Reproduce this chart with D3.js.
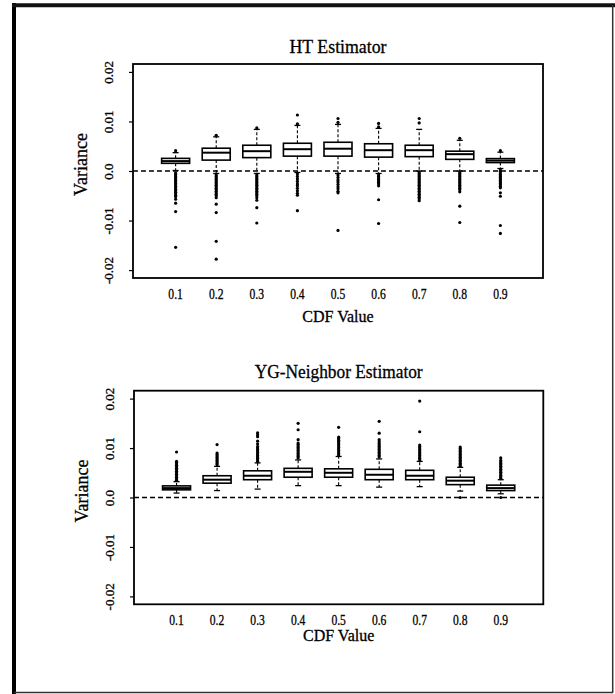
<!DOCTYPE html>
<meta charset="UTF-8">
<script src="https://d3js.org/d3.v7.min.js"></script>
<style>
body { margin: 0; background: #fff; }
svg text { font-family: "Liberation Serif", Tinos, "Times New Roman", Times, "DejaVu Serif", serif !important; fill: #000; stroke: #000; stroke-width: 0.3px; }
</style>
<div id="chart"></div>
<script>

// x categories and y ticks (variance in units of 0.001)
var cdfValues = ["0.1", "0.2", "0.3", "0.4", "0.5", "0.6", "0.7", "0.8", "0.9"];
var yTickValues = [-20, -10, 0, 10, 20];
var yTickLabels = ["-0.02", "-0.01", "0.0", "0.01", "0.02"];

// HT Estimator (x 0.001)
var htLower = [0.1, -0.5, -0.5, -0.3, -0.5, -0.5, 0.0, 0.0, 0.5];
var htQ1 = [1.55, 2.2, 2.7, 3.0, 3.0, 2.8, 2.9, 2.35, 1.7];
var htMedian = [2.0, 3.7, 4.0, 4.4, 4.5, 4.2, 4.2, 3.4, 2.1];
var htQ3 = [2.55, 4.6, 5.2, 5.6, 5.8, 5.5, 5.2, 4.0, 2.5];
var htUpper = [3.7, 6.9, 8.4, 9.2, 9.4, 8.6, 8.4, 6.2, 3.8];
var htOutliers = [
    [4.1, -0.4, -0.7, -1.0, -1.3, -1.6, -1.9, -2.2, -2.5, -2.8, -3.1, -3.4, -3.7, -4.0, -4.3, -4.6, -4.9, -5.2, -5.7, -6.5, -8.2, -15.4],
    [7.2, -0.8, -1.1, -1.4, -1.7, -2.0, -2.3, -2.6, -2.9, -3.2, -3.5, -3.8, -4.1, -4.4, -4.7, -5.0, -5.4, -6.7, -8.4, -14.2, -17.8],
    [8.7, -0.8, -1.1, -1.4, -1.7, -2.0, -2.3, -2.6, -2.9, -3.2, -3.5, -3.8, -4.1, -4.4, -4.7, -5.0, -5.4, -5.9, -7.4, -10.5],
    [9.5, 11.3, -0.6, -1.1, -1.6, -2.1, -2.6, -3.0, -3.5, -4.0, -4.5, -4.9, -8.0],
    [9.8, 10.6, -0.8, -1.3, -1.8, -2.2, -2.7, -3.2, -3.6, -4.1, -4.4, -12.0],
    [8.9, 9.6, -0.8, -1.1, -1.4, -1.7, -2.0, -2.3, -2.6, -3.0, -5.8, -10.6],
    [9.7, 10.6, -0.2, -0.5, -0.8, -1.1, -1.4, -1.7, -2.0, -2.3, -2.6, -2.9, -3.2, -3.5, -3.8, -4.1, -4.4, -4.7, -5.0, -5.3, -5.6, -6.0],
    [6.6, -0.2, -0.5, -0.8, -1.1, -1.4, -1.7, -2.0, -2.3, -2.6, -2.9, -3.2, -3.5, -3.8, -4.2, -7.1, -10.4],
    [4.1, 0.2, -0.1, -0.4, -0.7, -1.0, -1.3, -1.6, -1.9, -2.2, -2.5, -2.8, -3.1, -3.4, -4.4, -5.1, -11.0, -12.6]
];

// YG-Neighbor Estimator (x 0.001)
var ygLower = [0.9, 1.4, 1.7, 2.4, 2.4, 2.1, 2.2, 1.3, 0.75];
var ygQ1 = [1.55, 2.9, 3.6, 4.1, 4.1, 3.6, 3.6, 2.6, 1.4];
var ygMedian = [1.9, 3.6, 4.4, 5.2, 5.0, 4.6, 4.4, 3.4, 1.9];
var ygQ3 = [2.35, 4.4, 5.4, 5.9, 5.8, 5.7, 5.5, 4.1, 2.5];
var ygUpper = [3.2, 6.3, 7.0, 7.6, 8.3, 7.8, 7.3, 6.1, 3.6];
var ygOutliers = [
    [3.5, 3.8, 4.1, 4.4, 4.7, 5.0, 5.3, 5.6, 5.9, 6.2, 6.5, 6.8, 7.1, 7.3, 9.2],
    [6.6, 6.9, 7.2, 7.5, 7.8, 8.1, 8.4, 8.7, 9.0, 10.7],
    [7.3, 7.6, 7.9, 8.2, 8.5, 8.8, 9.1, 9.4, 9.7, 10.0, 10.3, 10.8, 11.4, 12.3, 12.7, 13.1],
    [8.0, 8.3, 8.6, 8.9, 9.2, 9.5, 9.8, 10.1, 10.4, 10.7, 11.0, 11.7, 13.7, 15.0],
    [8.6, 8.9, 9.2, 9.5, 9.8, 10.1, 10.4, 10.7, 11.0, 11.3, 11.6, 11.9, 12.2, 14.2],
    [8.2, 8.5, 8.8, 9.1, 9.4, 9.7, 10.0, 10.3, 10.6, 10.9, 11.3, 11.7, 13.0, 15.4],
    [7.6, 7.9, 8.2, 8.5, 8.8, 9.1, 9.4, 9.7, 10.0, 10.3, 10.6, 13.3, 19.5],
    [0.0, 6.3, 6.6, 6.9, 7.2, 7.5, 7.8, 8.1, 8.4, 8.7, 9.0, 9.3, 9.6, 9.9, 10.2],
    [0.0, 3.9, 4.2, 4.5, 4.8, 5.1, 5.4, 5.7, 6.0, 6.3, 6.6, 6.9, 7.2, 7.5, 8.0]
];

var width = 615
var height = 694
var serif = '"Liberation Serif", Tinos, "Times New Roman", Times, "DejaVu Serif", serif'

var svg = d3.select("#chart")
    .append("svg")
        .attr("width", width)
        .attr("height", height)
        .attr("font-family", serif)

// outer frame of the scanned figure
svg.append("line").attr("x1", 14).attr("x2", 14).attr("y1", 3).attr("y2", 694)
    .attr("stroke", "#000").attr("stroke-width", 4)
svg.append("line").attr("x1", 12).attr("x2", 615).attr("y1", 5.2).attr("y2", 5.2)
    .attr("stroke", "#111").attr("stroke-width", 4)
svg.append("line").attr("x1", 612.7).attr("x2", 612.7).attr("y1", 5).attr("y2", 693)
    .attr("stroke", "#333").attr("stroke-width", 1.5)
svg.append("line").attr("x1", 14).attr("x2", 613).attr("y1", 692.5).attr("y2", 692.5)
    .attr("stroke", "#333").attr("stroke-width", 1.5)

var panels = [
    { title: "HT Estimator", titleLen: 97, titleY: 53.3,
      left: 133, right: 543, top: 64, bottom: 278, xlabY: 321.5,
      lower: htLower, q1: htQ1, median: htMedian, q3: htQ3, upper: htUpper, outliers: htOutliers },
    { title: "YG-Neighbor Estimator", titleLen: 168, titleY: 377.7,
      left: 134, right: 543.3, top: 390.7, bottom: 604.3, xlabY: 641,
      lower: ygLower, q1: ygQ1, median: ygMedian, q3: ygQ3, upper: ygUpper, outliers: ygOutliers }
]

panels.forEach(drawPanel)

function drawPanel(p) {
    var g = svg.append("g")
    var boxW = 28

    var x = d3.scalePoint()
        .domain(cdfValues)
        .range([p.left, p.right])
        .padding(1.05)

    var y = d3.scaleLinear()
        .domain([-21.6, 21.6])
        .range([p.bottom, p.top])

    // dashed reference line at zero
    g.append("line")
        .attr("x1", p.left).attr("x2", p.right)
        .attr("y1", y(0)).attr("y2", y(0))
        .attr("stroke", "#000").attr("stroke-width", 1.5)
        .attr("stroke-dasharray", "5,3")

    var boxes = g.selectAll(".box")
        .data(cdfValues)
        .enter()
        .append("g")
            .attr("class", "box")

    // whiskers
    boxes.append("line")
        .attr("x1", function(d){ return x(d) }).attr("x2", function(d){ return x(d) })
        .attr("y1", function(d, i){ return y(p.q3[i]) }).attr("y2", function(d, i){ return y(p.upper[i]) })
        .attr("stroke", "#000").attr("stroke-width", 1.1).attr("stroke-dasharray", "3,2")
    boxes.append("line")
        .attr("x1", function(d){ return x(d) }).attr("x2", function(d){ return x(d) })
        .attr("y1", function(d, i){ return y(p.q1[i]) }).attr("y2", function(d, i){ return y(p.lower[i]) })
        .attr("stroke", "#000").attr("stroke-width", 1.1).attr("stroke-dasharray", "3,2")
    // staples
    boxes.append("line")
        .attr("x1", function(d){ return x(d) - 3 }).attr("x2", function(d){ return x(d) + 3 })
        .attr("y1", function(d, i){ return y(p.upper[i]) }).attr("y2", function(d, i){ return y(p.upper[i]) })
        .attr("stroke", "#000").attr("stroke-width", 1.3)
    boxes.append("line")
        .attr("x1", function(d){ return x(d) - 3 }).attr("x2", function(d){ return x(d) + 3 })
        .attr("y1", function(d, i){ return y(p.lower[i]) }).attr("y2", function(d, i){ return y(p.lower[i]) })
        .attr("stroke", "#000").attr("stroke-width", 1.3)

    // boxes and medians
    boxes.append("rect")
        .attr("x", function(d){ return x(d) - boxW/2 })
        .attr("width", boxW)
        .attr("y", function(d, i){ return y(p.q3[i]) })
        .attr("height", function(d, i){ return y(p.q1[i]) - y(p.q3[i]) })
        .attr("fill", "#fff")
        .attr("stroke", "#000").attr("stroke-width", 1.6)
    boxes.append("line")
        .attr("x1", function(d){ return x(d) - boxW/2 }).attr("x2", function(d){ return x(d) + boxW/2 })
        .attr("y1", function(d, i){ return y(p.median[i]) }).attr("y2", function(d, i){ return y(p.median[i]) })
        .attr("stroke", "#000").attr("stroke-width", 2)

    // outlying points
    boxes.selectAll("circle")
        .data(function(d, i){ return p.outliers[i].map(function(v){ return { cat: d, v: v } }) })
        .enter()
        .append("circle")
            .attr("cx", function(o){ return x(o.cat) })
            .attr("cy", function(o){ return y(o.v) })
            .attr("r", 1.6)
            .attr("fill", "#000")

    // plot border
    g.append("rect")
        .attr("x", p.left).attr("y", p.top)
        .attr("width", p.right - p.left).attr("height", p.bottom - p.top)
        .attr("fill", "none").attr("stroke", "#000").attr("stroke-width", 1.8)

    // y axis with labels parallel to the axis
    var yAxis = g.append("g")
        .attr("transform", "translate(" + p.left + ",0)")
        .call(d3.axisLeft(y)
            .tickValues(yTickValues)
            .tickFormat(function(d, i){ return yTickLabels[i] })
            .tickSize(4))
    yAxis.attr("font-family", serif).attr("font-size", 13)
    yAxis.select(".domain").remove()
    yAxis.selectAll("line").attr("stroke-width", 1.2)
    yAxis.selectAll("text")
        .attr("transform", "rotate(-90)")
        .attr("x", 0).attr("y", -20).attr("dy", 0)
        .attr("text-anchor", "middle")

    // category labels under the plot
    g.selectAll(".xlab")
        .data(cdfValues)
        .enter()
        .append("text")
            .attr("class", "xlab")
            .attr("x", function(d){ return x(d) })
            .attr("y", p.bottom + 20.5)
            .attr("text-anchor", "middle")
            .attr("font-size", 14)
            .attr("textLength", 14.5)
            .attr("lengthAdjust", "spacingAndGlyphs")
            .text(function(d){ return d })

    var cx = (p.left + p.right) / 2

    g.append("text")
        .attr("x", cx).attr("y", p.titleY)
        .attr("text-anchor", "middle")
        .attr("font-size", 19)
        .attr("textLength", p.titleLen)
        .attr("lengthAdjust", "spacingAndGlyphs")
        .text(p.title)

    g.append("text")
        .attr("x", cx).attr("y", p.xlabY)
        .attr("text-anchor", "middle")
        .attr("font-size", 16)
        .text("CDF Value")

    g.append("text")
        .attr("transform", "translate(" + (p.left - 46.5) + "," + ((p.top + p.bottom) / 2 - 6.5) + ") rotate(-90)")
        .attr("text-anchor", "middle")
        .attr("font-size", 18)
        .text("Variance")
}

</script>
